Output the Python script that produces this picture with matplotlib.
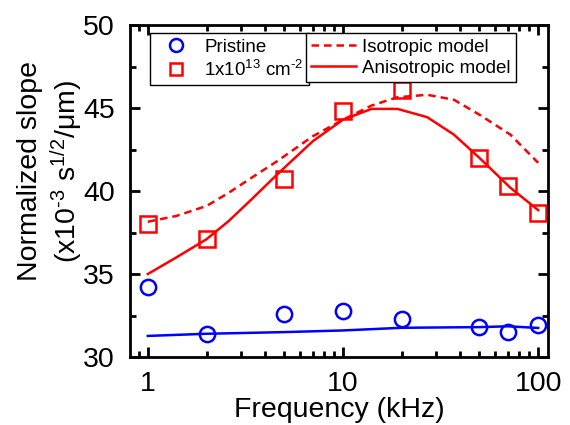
import matplotlib.pyplot as plt
from matplotlib.ticker import MultipleLocator, LogLocator, NullFormatter, FixedLocator, FixedFormatter

plt.rcParams['font.family'] = ['Liberation Sans', 'DejaVu Sans']
plt.rcParams['mathtext.fontset'] = 'custom'
plt.rcParams['mathtext.rm'] = 'Liberation Sans'
plt.rcParams['mathtext.it'] = 'Liberation Sans:italic'

freq = [1, 2, 5, 10, 20, 50, 70, 100]
pristine = [34.2, 31.4, 32.6, 32.8, 32.3, 31.8, 31.5, 31.9]
irradiated = [38.0, 37.1, 40.7, 44.8, 46.1, 42.0, 40.3, 38.7]

model_f = [1, 1.4, 2, 2.6, 3.4, 4.6, 7, 10, 14, 19, 27, 37, 50, 72, 100]
aniso = [35.0, 36.0, 37.1, 38.2, 39.5, 41.0, 43.0, 44.3, 44.95, 44.95, 44.45, 43.4, 42.0, 40.2, 38.85]
iso = [38.15, 38.5, 39.1, 39.9, 40.8, 41.8, 43.3, 44.3, 45.15, 45.65, 45.8, 45.5, 44.6, 43.4, 41.7]

blue_f = [1, 2, 5, 10, 20, 50, 70, 100]
blue_model = [31.27, 31.4, 31.5, 31.6, 31.76, 31.8, 31.85, 31.75]

fig = plt.figure(figsize=(5.7, 4.25), dpi=100)
ax = fig.add_axes([0.228, 0.16, 0.733, 0.781])

p1, = ax.plot(freq, pristine, 'o', ls='none', ms=11, mfc='none', mec='#0000ff', mew=1.8)
p2, = ax.plot(freq, irradiated, 's', ls='none', ms=11, mfc='none', mec='#ff0000', mew=1.8)
l1, = ax.plot(model_f, iso, '--', color='#ff0000', lw=1.8, dashes=(3, 2))
l2, = ax.plot(model_f, aniso, '-', color='#ff0000', lw=1.8)
ax.plot(blue_f, blue_model, '-', color='#0000ff', lw=1.8)

ax.set_xscale('log')
ax.set_xlim(0.81, 112)
ax.set_ylim(30, 50)
ax.xaxis.set_major_locator(FixedLocator([1, 10, 100]))
ax.xaxis.set_major_formatter(FixedFormatter(['1', '10', '100']))
ax.xaxis.set_minor_locator(LogLocator(base=10, subs=range(2, 10)))
ax.xaxis.set_minor_formatter(NullFormatter())
ax.yaxis.set_major_locator(MultipleLocator(5))
ax.yaxis.set_minor_locator(MultipleLocator(2.5))

for s in ax.spines.values():
    s.set_linewidth(2)
ax.tick_params(which='both', direction='in', top=True, right=True, width=2, labelsize=20.5)
ax.tick_params(which='major', length=7)
ax.tick_params(axis='x', which='major', pad=10)
ax.tick_params(axis='y', which='major', pad=11)
ax.tick_params(which='minor', length=4)

ax.set_xlabel('Frequency (kHz)', fontsize=20.5, labelpad=0)
ax.set_ylabel('Normalized slope\n(x10$^{\u2010 3}$ s$^{1/2}$/\u03bcm)', fontsize=20.5, linespacing=1.2)
ax.yaxis.set_label_coords(-0.108, 0.56)

leg_kw = dict(loc='upper left', borderaxespad=0, fontsize=13.5, fancybox=False,
              edgecolor='black', framealpha=1, borderpad=0.3, labelspacing=0.2)
leg1 = ax.legend([p1, p2], ['Pristine', '1x10$^{13}$ cm$^{\u20102}$'],
                 bbox_to_anchor=(0.048, 0.976), handletextpad=0.4, handlelength=2.2,
                 markerscale=0.85, **leg_kw)
leg1.get_frame().set_linewidth(1)
ax.add_artist(leg1)
leg2 = ax.legend([l1, l2], ['Isotropic model', 'Anisotropic model'],
                 bbox_to_anchor=(0.421, 0.976), handletextpad=0.3, handlelength=2.4, **leg_kw)
leg2.get_frame().set_linewidth(1)

fig.savefig('out.png', dpi=100)
